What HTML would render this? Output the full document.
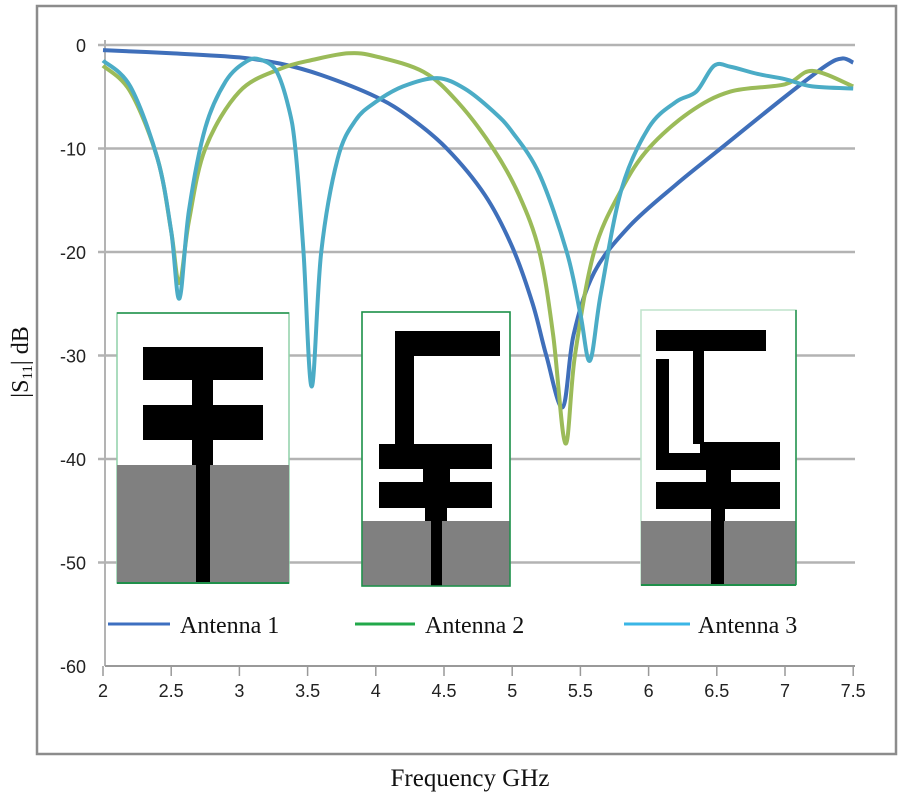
<!DOCTYPE html>
<html><head><meta charset="utf-8"><style>
html,body{margin:0;padding:0;background:#fff;}
svg{display:block;}
</style></head><body>
<svg id="s" width="900" height="800" xmlns="http://www.w3.org/2000/svg">
<rect x="37" y="6" width="859" height="748" fill="#fff" stroke="#8c8c8c" stroke-width="2.5"/>
<g id="grid" stroke="#b3b3b3" stroke-width="2.5"></g>
<line x1="105" y1="40" x2="105" y2="666" stroke="#b3b3b3" stroke-width="2"/>
<line x1="105" y1="666" x2="855" y2="666" stroke="#999" stroke-width="2"/>
<g id="ticks" stroke="#999" stroke-width="1.5"></g>
<g id="ylab" font-family="Liberation Sans, sans-serif" font-size="18" fill="#222" text-anchor="end"></g>
<g id="xlab" font-family="Liberation Sans, sans-serif" font-size="18" fill="#222" text-anchor="middle"></g>
<g id="curves" fill="none" stroke-width="4" stroke-linejoin="round"></g>
<!-- inset 1 -->
<rect x="117" y="313" width="172" height="270" fill="#fff" stroke="#8fd1a8" stroke-width="1.5"/>
<rect x="117" y="465" width="172" height="118" fill="#808080"/>
<g fill="#000">
<rect x="143" y="347" width="120" height="33"/><rect x="192" y="380" width="21" height="25"/>
<rect x="143" y="405" width="120" height="35"/><rect x="192" y="440" width="21" height="25"/>
<rect x="196" y="465" width="14" height="118"/></g>
<line x1="117" y1="583" x2="289" y2="583" stroke="#1f8f4a" stroke-width="2"/>
<line x1="117" y1="313" x2="289" y2="313" stroke="#1f8f4a" stroke-width="1.5"/>
<!-- inset 2 -->
<rect x="362" y="312" width="148" height="274" fill="#fff" stroke="#8fd1a8" stroke-width="1.5"/>
<rect x="362" y="521" width="148" height="65" fill="#808080"/>
<g fill="#000">
<rect x="395" y="331" width="105" height="25"/><rect x="395" y="356" width="19" height="90"/>
<rect x="379" y="444" width="113" height="25"/><rect x="423" y="469" width="27" height="13"/>
<rect x="379" y="482" width="113" height="26"/><rect x="425" y="508" width="22" height="13"/>
<rect x="431" y="521" width="11" height="65"/></g>
<rect x="362" y="312" width="148" height="274" fill="none" stroke="#1f8f4a" stroke-width="1.5"/>
<!-- inset 3 -->
<rect x="641" y="310" width="155" height="275" fill="#fff" stroke="#bfe3cc" stroke-width="1.5"/>
<rect x="641" y="521" width="155" height="64" fill="#808080"/>
<g fill="#000">
<rect x="656" y="330" width="110" height="21"/><rect x="693" y="351" width="11" height="93"/>
<rect x="656" y="359" width="13" height="111"/><rect x="656" y="453" width="46" height="17"/>
<rect x="700" y="442" width="80" height="28"/><rect x="706" y="470" width="25" height="12"/>
<rect x="656" y="482" width="124" height="27"/><rect x="711" y="509" width="14" height="12"/>
<rect x="711" y="521" width="13" height="64"/></g>
<line x1="796" y1="310" x2="796" y2="585" stroke="#1f8f4a" stroke-width="1.5"/>
<line x1="641" y1="585" x2="796" y2="585" stroke="#1f8f4a" stroke-width="2"/>
<!-- legend -->
<g font-family="Liberation Serif, serif" font-size="24" fill="#111">
<line x1="108" y1="624" x2="170" y2="624" stroke="#3d6fc0" stroke-width="3"/><text x="180" y="633">Antenna 1</text>
<line x1="355" y1="624" x2="415" y2="624" stroke="#22a84a" stroke-width="3"/><text x="425" y="633">Antenna 2</text>
<line x1="624" y1="624" x2="690" y2="624" stroke="#3ab6e6" stroke-width="3"/><text x="698" y="633">Antenna 3</text>
</g>
<text x="470" y="786" font-family="Liberation Serif, serif" font-size="25" fill="#111" text-anchor="middle">Frequency GHz</text>
<text transform="translate(28,362) rotate(-90)" font-family="Liberation Serif, serif" font-size="24" fill="#111" text-anchor="middle">|S<tspan font-size="15" dy="4">11</tspan><tspan dy="-4">| dB</tspan></text>
</svg>
<script>
var NS="http://www.w3.org/2000/svg";
function X(f){return 103+(f-2)*136.4;}
function Y(v){return 45-v*10.35;}
function el(p,t,a){var e=document.createElementNS(NS,t);for(var k in a)e.setAttribute(k,a[k]);document.getElementById(p).appendChild(e);return e;}
for(var v=0;v>=-50;v-=10){el("grid","line",{x1:98,x2:855,y1:Y(v),y2:Y(v)});}
for(var v=0;v>=-60;v-=10){var t=el("ylab","text",{x:86,y:Y(v)+7});t.textContent=v;}
for(var f=2;f<=7.51;f+=0.5){el("ticks","line",{x1:X(f),x2:X(f),y1:666,y2:676});var t=el("xlab","text",{x:X(f),y:697});t.textContent=(Math.round(f*10)/10);}
function path(pts,col){
 var P=pts.map(function(p){return [X(p[0]),Y(p[1])];});
 var d="M"+P[0][0]+","+P[0][1];
 for(var i=0;i<P.length-1;i++){
  var p0=P[i-1]||P[i],p1=P[i],p2=P[i+1],p3=P[i+2]||P[i+1];
  var c1=[p1[0]+(p2[0]-p0[0])/6,p1[1]+(p2[1]-p0[1])/6];
  var c2=[p2[0]-(p3[0]-p1[0])/6,p2[1]-(p3[1]-p1[1])/6];
  d+=" C"+c1+" "+c2+" "+p2;
 }
 el("curves","path",{d:d,stroke:col});
}
path([[2,-0.5],[2.5,-0.8],[3,-1.2],[3.3,-1.8],[3.6,-2.9],[4,-5],[4.25,-7],[4.52,-10],[4.8,-14.5],[5,-19.5],[5.15,-25],[5.25,-30],[5.37,-35],[5.45,-28],[5.6,-22],[5.86,-17.5],[6.2,-13.5],[6.5,-10.3],[7,-5],[7.3,-2],[7.42,-1.3],[7.5,-1.7]],"#3f6fba");
path([[2,-2],[2.2,-4.5],[2.4,-11],[2.5,-18],[2.56,-23],[2.63,-17],[2.75,-10],[3,-4.5],[3.3,-2.3],[3.55,-1.4],[3.8,-0.8],[4,-1.1],[4.35,-2.6],[4.6,-5.5],[4.86,-10],[5.05,-14.5],[5.2,-20],[5.3,-28],[5.39,-38.5],[5.46,-30],[5.6,-20],[5.8,-14],[6,-10],[6.3,-6.5],[6.6,-4.5],[7,-3.8],[7.2,-2.5],[7.5,-4]],"#9bbb59");
path([[2,-1.5],[2.2,-4],[2.4,-11],[2.5,-18],[2.56,-24.5],[2.63,-16],[2.75,-8],[2.9,-3.5],[3.05,-1.6],[3.15,-1.4],[3.27,-2.5],[3.36,-6],[3.41,-10],[3.47,-20],[3.53,-33],[3.6,-20],[3.72,-11],[3.85,-7.3],[4,-5.5],[4.2,-4],[4.45,-3.2],[4.65,-4.2],[4.86,-6.4],[5.0,-8.4],[5.2,-12.5],[5.4,-20],[5.5,-26],[5.57,-30.5],[5.65,-24],[5.8,-14],[6,-8],[6.2,-5.5],[6.35,-4.5],[6.48,-2],[6.6,-2.1],[6.8,-2.8],[7,-3.3],[7.2,-4],[7.5,-4.2]],"#4bacc6");
</script>
</body></html>
